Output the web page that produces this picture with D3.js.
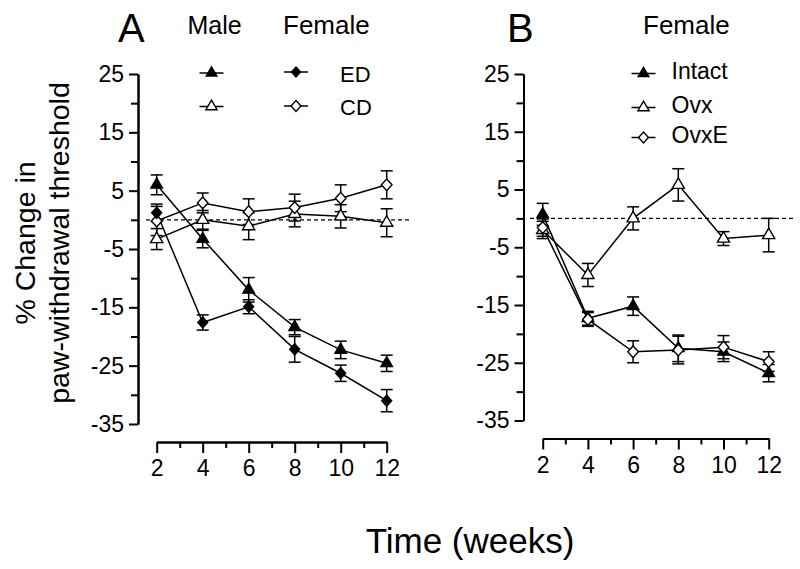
<!DOCTYPE html>
<html><head><meta charset="utf-8">
<script src="https://cdn.jsdelivr.net/npm/d3@7"></script>
<style>body{margin:0;background:#fff}svg{display:block}text{font-family:"Liberation Sans",Arial,sans-serif;fill:#000}</style>
</head><body><svg id="c" width="800" height="569"></svg>
<script>
// ---- data ----
const weeks = [2, 4, 6, 8, 10, 12];
const xMajorTicks = [2, 4, 6, 8, 10, 12];
const xMinorTicks = [3, 5, 7, 9, 11];
const yMajorTicks = [25, 15, 5, -5, -15, -25, -35];
const yMinorTicks = [20, 10, 0, -10, -20, -30];

// Panel A
const maleED = [6.0, -3.3, -12.0, -18.4, -22.3, -24.6];
const maleEDErr = [1.7, 1.5, 2.1, 1.3, 1.5, 1.4];
const femaleED = [1.2, -17.6, -14.9, -22.2, -26.3, -31.0];
const femaleEDErr = [1.5, 1.3, 1.2, 2.2, 1.4, 1.9];
const maleCD = [-3.3, 0.0, -1.1, 1.0, 0.6, -0.5];
const maleCDErr = [1.8, 1.6, 2.3, 2.2, 2.0, 2.4];
const femaleCD = [-0.2, 2.9, 1.4, 2.1, 3.7, 6.0];
const femaleCDErr = [2.5, 1.7, 2.2, 2.3, 2.3, 2.4];

// Panel B
const intact = [0.7, -17.3, -15.2, -22.5, -23.1, -26.8];
const intactErr = [1.9, 1.2, 1.6, 2.3, 1.7, 1.5];
const ovx = [-2.0, -9.8, 0.0, 5.8, -3.5, -2.9];
const ovxErr = [1.5, 2.0, 2.0, 2.8, 1.2, 2.9];
const ovxE = [-1.6, -17.5, -23.1, -22.8, -22.3, -24.8];
const ovxEErr = [1.5, 1.2, 1.9, 2.4, 2.0, 1.7];

const svg = d3.select("#c");

const diamond = {draw(ctx, size){ const w = Math.sqrt(size)/2*0.95, h = Math.sqrt(size)/2*1.05;
  ctx.moveTo(0,-h); ctx.lineTo(w,0); ctx.lineTo(0,h); ctx.lineTo(-w,0); ctx.closePath(); }};
const shapes = {
  triFilled: {type: d3.symbolTriangle, size: 58, fill: "#000"},
  triOpen: {type: d3.symbolTriangle, size: 64, fill: "#fff"},
  diaFilled: {type: diamond, size: 110, fill: "#000"},
  diaOpen: {type: diamond, size: 125, fill: "#fff"}
};

function panel(cfg) {
  const x = d3.scaleLinear().domain([2, 12]).range(cfg.xr);
  const y = d3.scaleLinear().domain([-35, 25]).range(cfg.yr);
  const g = svg.append("g");
  // y axis
  g.append("g").attr("transform", `translate(${cfg.yAxisX},0)`)
    .call(d3.axisLeft(y).tickValues(yMajorTicks).tickSize(9).tickSizeOuter(0).tickPadding(5).tickFormat(d => String(d)));
  g.append("g").attr("transform", `translate(${cfg.yAxisX},0)`)
    .call(d3.axisLeft(y).tickValues(yMinorTicks).tickSize(7).tickSizeOuter(0).tickFormat(""));
  // x axis
  g.append("g").attr("transform", `translate(0,${cfg.xAxisY})`)
    .call(d3.axisBottom(x).tickValues(xMajorTicks).tickSize(11).tickSizeOuter(0).tickPadding(7).tickFormat(d => String(d)));
  g.append("g").attr("transform", `translate(0,${cfg.xAxisY})`)
    .call(d3.axisBottom(x).tickValues(xMinorTicks).tickSize(6).tickSizeOuter(0).tickFormat(""));
  g.selectAll(".domain, .tick line").attr("stroke", "#000").attr("stroke-width", 2);
  g.selectAll(".tick text").attr("font-size", 23).attr("font-family", "Liberation Sans, Arial, sans-serif");

  // dashed zero line
  g.append("line").attr("x1", cfg.dashX[0]).attr("x2", cfg.dashX[1])
    .attr("y1", y(0)).attr("y2", y(0)).attr("stroke", "#000").attr("stroke-width", 1.2)
    .attr("stroke-dasharray", "4,3");

  cfg.series.forEach(s => {
    const pts = weeks.map((w, i) => ({w, v: s.values[i], e: s.err[i]}));
    g.append("path").datum(pts).attr("fill", "none").attr("stroke", "#000").attr("stroke-width", 1.5)
      .attr("d", d3.line().x(d => x(d.w)).y(d => y(d.v)));
    const eb = g.append("g").attr("stroke", "#000").attr("stroke-width", 1.5);
    pts.forEach(d => {
      eb.append("line").attr("x1", x(d.w)).attr("x2", x(d.w)).attr("y1", y(d.v - d.e)).attr("y2", y(d.v + d.e));
      eb.append("line").attr("x1", x(d.w) - 6).attr("x2", x(d.w) + 6).attr("y1", y(d.v + d.e)).attr("y2", y(d.v + d.e));
      eb.append("line").attr("x1", x(d.w) - 6).attr("x2", x(d.w) + 6).attr("y1", y(d.v - d.e)).attr("y2", y(d.v - d.e));
    });
  });
  cfg.series.forEach(s => {
    const sh = shapes[s.shape];
    g.selectAll(null).data(weeks.map((w, i) => ({w, v: s.values[i]}))).join("path")
      .attr("transform", d => `translate(${x(d.w)},${y(d.v)})`)
      .attr("d", d3.symbol().type(sh.type).size(sh.size))
      .attr("fill", sh.fill).attr("stroke", "#000").attr("stroke-width", 1.4);
  });
}

panel({
  xr: [156.7, 386.7], yr: [424, 74], yAxisX: 138, xAxisY: 442, dashX: [146, 410],
  series: [
    {values: maleCD, err: maleCDErr, shape: "triOpen"},
    {values: femaleCD, err: femaleCDErr, shape: "diaOpen"},
    {values: maleED, err: maleEDErr, shape: "triFilled"},
    {values: femaleED, err: femaleEDErr, shape: "diaFilled"}
  ]
});
panel({
  xr: [542.7, 768.7], yr: [420.5, 74], yAxisX: 523.5, xAxisY: 438.5, dashX: [530, 796],
  series: [
    {values: ovx, err: ovxErr, shape: "triOpen"},
    {values: intact, err: intactErr, shape: "triFilled"},
    {values: ovxE, err: ovxEErr, shape: "diaOpen"}
  ]
});

// legend helper
function legendItem(cx, cy, shape, label, tx, ty, fs) {
  const sh = shapes[shape];
  svg.append("line").attr("x1", cx - 12).attr("x2", cx + 12).attr("y1", cy).attr("y2", cy)
    .attr("stroke", "#000").attr("stroke-width", 1.5);
  svg.append("path").attr("transform", `translate(${cx},${cy})`)
    .attr("d", d3.symbol().type(sh.type).size(sh.size * 0.85))
    .attr("fill", sh.fill).attr("stroke", "#000").attr("stroke-width", 1.4);
  if (label) svg.append("text").attr("x", tx).attr("y", ty).attr("font-size", fs).text(label);
}

// Panel A labels
svg.append("text").attr("x", 118).attr("y", 41.7).attr("font-size", 40).text("A");
svg.append("text").attr("x", 187.5).attr("y", 34.3).attr("font-size", 25).text("Male");
svg.append("text").attr("x", 283).attr("y", 34.3).attr("font-size", 26).text("Female");
legendItem(211.5, 73, "triFilled");
legendItem(211.5, 106.5, "triOpen");
legendItem(296, 72, "diaFilled", "ED", 340, 81.7, 22);
legendItem(296, 106, "diaOpen", "CD", 340, 115, 22);

// Panel B labels
svg.append("text").attr("x", 507).attr("y", 41.7).attr("font-size", 40).text("B");
svg.append("text").attr("x", 643).attr("y", 34.3).attr("font-size", 26).text("Female");
legendItem(643.5, 73.5, "triFilled", "Intact", 671.5, 79, 23);
legendItem(643.5, 107.5, "triOpen", "Ovx", 671.5, 113.3, 23);
legendItem(643.5, 137.5, "diaOpen", "OvxE", 671.5, 143, 23);

// axis titles
svg.append("text").attr("transform", "translate(35,243) rotate(-90)").attr("text-anchor", "middle")
  .attr("font-size", 28.5).text("% Change in");
svg.append("text").attr("transform", "translate(69,243) rotate(-90)").attr("text-anchor", "middle")
  .attr("font-size", 28.5).text("paw-withdrawal threshold");
svg.append("text").attr("x", 470).attr("y", 553).attr("text-anchor", "middle")
  .attr("font-size", 35).text("Time (weeks)");
</script></body></html>
